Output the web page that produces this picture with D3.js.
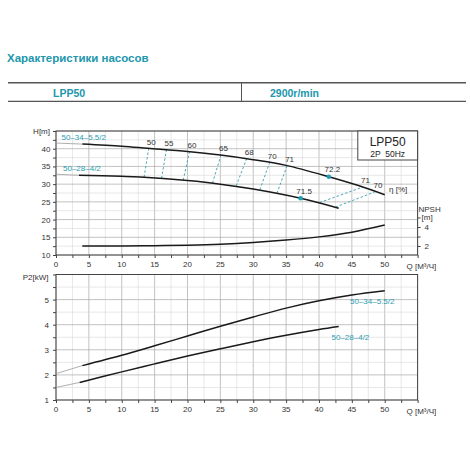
<html>
<head>
<meta charset="utf-8">
<title>LPP50</title>
<style>
    body{ margin:0; background:#fff; }
    text{ font-family:"Liberation Sans", Arial, sans-serif; }
    .grid5{ stroke:#a8a8a8; stroke-width:0.7; }
    .grid25{ stroke:#d6d6d6; stroke-width:0.6; }
    .frame{ fill:none; stroke:#444; stroke-width:1; }
    .tick{ font-size:8px; fill:#333; }
    .curve{ fill:none; stroke:#1a1a1a; stroke-width:1.5; }
    .ext{ fill:none; stroke:#9a9a9a; stroke-width:0.8; }
    .eta{ fill:none; stroke:#4aa9b9; stroke-width:1; stroke-dasharray:2.5,2; }
    .teal{ fill:#2b9cb0; }
    .dot{ fill:#1f9db2; }
</style>
</head>
<body>
<script src="https://cdn.jsdelivr.net/npm/d3@7"></script>
<script>
var width = 470, height = 470;

// Q axis ticks (shared)
var qTicks = [0,5,10,15,20,25,30,35,40,45,50];
var hTicks = [10,15,20,25,30,35,40];
var npshTicks = [2,4];
var p2Ticks = [1,2,3,4,5];

// H curves
var hBigQ = [4,10,14,20,25,30,35,41.5,46,50];
var hBigH = [41.3,40.7,40.1,39.2,38.2,36.9,35.3,32.1,29.6,27.0];
var hSmallQ = [3.5,10,12.8,20,25,30,37.2,43];
var hSmallH = [32.5,32.2,32.0,31.0,30.0,28.6,26.0,23.2];
// thin lines from Q=0
var hBigExtQ = [0,4], hBigExtH = [41.6,41.3];
var hSmallExtQ = [0,3.5], hSmallExtH = [32.8,32.5];

// NPSH curve
var npshQ = [4,10,15,20,25,30,35,40,45,50];
var npshV = [2.0,2.0,2.03,2.08,2.18,2.36,2.62,2.96,3.45,4.2];

// efficiency iso lines: label, top point (on upper curve), bottom point (on lower curve)
var etaLabels = ["50","55","60","65","68","70","71","71","70"];
var etaTopQ = [14.1,16.8,20.3,25.1,29.0,32.5,35.15,46.7,48.6];
var etaTopH = [40.1,39.7,39.15,38.2,37.2,36.1,35.2,29.2,27.9];
var etaBotQ = [13.4,16.05,19.35,23.8,27.4,31.0,33.6,40.1,42.5];
var etaBotH = [31.95,31.6,31.1,30.3,29.5,28.4,27.4,24.8,23.5];

// best efficiency points
var bepLabels = ["72.2","71.5"];
var bepQ = [41.5,37.2];
var bepH = [32.1,26.0];

// P2 curves
var p2BigQ = [4,10,15,20,25,30,35,40,45,50];
var p2BigV = [2.37,2.78,3.16,3.55,3.94,4.31,4.66,4.95,5.18,5.35];
var p2SmallQ = [3.6,10,15,20,25,30,35,40,43];
var p2SmallV = [1.70,2.12,2.44,2.75,3.04,3.32,3.58,3.81,3.93];
var p2BigExtQ = [0,4], p2BigExtV = [2.05,2.37];
var p2SmallExtQ = [0,3.6], p2SmallExtV = [1.50,1.70];

var models = ["50–34–5.5/2","50–28–4/2"];

var svg = d3.select("body").append("svg")
            .attr("width", width)
            .attr("height", height);

var teal = "#2196ad";

// header
svg.append("text").attr("x", 7).attr("y", 62)
   .attr("font-size", 11.5).attr("font-weight", "bold").attr("fill", teal)
   .text("Характеристики насосов");
svg.append("line").attr("x1", 8).attr("x2", 466).attr("y1", 82.7).attr("y2", 82.7)
   .attr("stroke", "#555").attr("stroke-width", 1.4);
svg.append("line").attr("x1", 8).attr("x2", 466).attr("y1", 101.3).attr("y2", 101.3)
   .attr("stroke", "#555").attr("stroke-width", 1.2);
svg.append("line").attr("x1", 241.5).attr("x2", 241.5).attr("y1", 83).attr("y2", 101)
   .attr("stroke", "#555").attr("stroke-width", 1);
svg.append("text").attr("x", 53).attr("y", 96.5)
   .attr("font-size", 10.5).attr("font-weight", "bold").attr("fill", teal).text("LPP50");
svg.append("text").attr("x", 270).attr("y", 96.5)
   .attr("font-size", 10.5).attr("font-weight", "bold").attr("fill", teal).text("2900r/min");

// scales
var x = d3.scaleLinear().domain([0,55]).range([56,417.6]);
var yH = d3.scaleLinear().domain([10,45]).range([255,131]);
var yN = d3.scaleLinear().domain([2,4]).range([246,227]);
var yP = d3.scaleLinear().domain([1,6]).range([400,274.5]);

function zip(a,b){ return a.map(function(d,i){ return [d,b[i]]; }); }

function drawGrid(y, yStep, yMin, yMax){
    var g = svg.append("g");
    var xs = d3.range(0, 55.01, 2.5);
    var ys = d3.range(yMin, yMax+0.001, yStep);
    xs.forEach(function(v){
        g.append("line").attr("class", (v % 5 == 0) ? "grid5" : "grid25")
         .attr("x1", x(v)).attr("x2", x(v)).attr("y1", y(yMin)).attr("y2", y(yMax));
    });
    ys.forEach(function(v,i){
        g.append("line").attr("class", (i % 2 == 0) ? "grid5" : "grid25")
         .attr("x1", x(0)).attr("x2", x(55)).attr("y1", y(v)).attr("y2", y(v));
    });
    // frame
    g.append("rect").attr("class", "frame")
     .attr("x", x(0)).attr("y", y(yMax))
     .attr("width", x(55)-x(0)).attr("height", y(yMin)-y(yMax));
    // axis ticks
    var xa = svg.append("g").attr("transform", "translate(0," + y(yMin) + ")")
        .call(d3.axisBottom(x).tickValues(d3.range(0,55.01,2.5)).tickSize(3).tickFormat(""));
    xa.select(".domain").remove();
    xa.selectAll("line").attr("stroke", "#444");
    var ya = svg.append("g").attr("transform", "translate(" + x(0) + ",0)")
        .call(d3.axisLeft(y).tickValues(ys).tickSize(3).tickFormat(""));
    ya.select(".domain").remove();
    ya.selectAll("line").attr("stroke", "#444");
    svg.append("g").selectAll("text").data(qTicks).enter().append("text")
       .attr("class", "tick").attr("x", function(d){ return x(d); })
       .attr("y", y(yMin) + 12).attr("text-anchor", "middle")
       .text(function(d){ return d; });
    svg.append("text").attr("class", "tick").attr("x", 406.5).attr("y", y(yMin) + 13.5)
       .text("Q [М³/Ч]");
}

function drawLine(q, v, y, cls, curve){
    var line = d3.line().x(function(d){ return x(d[0]); })
                        .y(function(d){ return y(d[1]); })
                        .curve(curve || d3.curveCatmullRom.alpha(0.5));
    svg.append("path").attr("class", cls).attr("d", line(zip(q, v)));
}

// ---- top chart: H, NPSH ----
drawGrid(yH, 2.5, 10, 45);
svg.append("g").selectAll("text").data(hTicks).enter().append("text")
   .attr("class", "tick").attr("x", 50.5).attr("y", function(d){ return yH(d) + 3; })
   .attr("text-anchor", "end").text(function(d){ return d; });
svg.append("text").attr("class", "tick").attr("x", 50).attr("y", 133.5)
   .attr("text-anchor", "end").text("H[m]");

// NPSH right axis
var na = svg.append("g").attr("transform", "translate(" + x(55) + ",0)")
    .call(d3.axisRight(yN).tickValues([2,3,4,5]).tickSize(3).tickFormat(""));
na.select(".domain").remove();
na.selectAll("line").attr("stroke", "#444");
svg.append("g").selectAll("text").data(npshTicks).enter().append("text")
   .attr("class", "tick").attr("x", 424.5).attr("y", function(d){ return yN(d) + 3; })
   .text(function(d){ return d; });
svg.append("text").attr("class", "tick").attr("x", 418.5).attr("y", 212).text("NPSH");
svg.append("text").attr("class", "tick").attr("x", 421.5).attr("y", 220).text("[m]");

drawLine(hBigExtQ, hBigExtH, yH, "ext", d3.curveLinear);
drawLine(hSmallExtQ, hSmallExtH, yH, "ext", d3.curveLinear);

// efficiency iso lines
etaLabels.forEach(function(lbl,i){
    svg.append("line").attr("class", "eta")
       .attr("x1", x(etaBotQ[i])).attr("y1", yH(etaBotH[i]))
       .attr("x2", x(etaTopQ[i])).attr("y2", yH(etaTopH[i]));
    svg.append("text").attr("class", "tick")
       .attr("x", x(etaTopQ[i]) + 2.5).attr("y", yH(etaTopH[i]) - 3.8)
       .attr("text-anchor", "middle").text(lbl);
});

drawLine(hBigQ, hBigH, yH, "curve");
drawLine(hSmallQ, hSmallH, yH, "curve");
drawLine(npshQ, npshV, yN, "curve");

bepLabels.forEach(function(lbl,i){
    svg.append("circle").attr("class", "dot")
       .attr("cx", x(bepQ[i])).attr("cy", yH(bepH[i])).attr("r", 2.3);
    svg.append("text").attr("class", "tick")
       .attr("x", x(bepQ[i]) + 3.5).attr("y", yH(bepH[i]) - 4.5)
       .attr("text-anchor", "middle").text(lbl);
});

svg.append("text").attr("class", "tick").attr("x", 389).attr("y", 191.5)
   .attr("font-size", 9).text("η [%]");

svg.append("text").attr("class", "teal").attr("font-size", 8)
   .attr("x", 61.5).attr("y", 139.5).text(models[0]);
svg.append("text").attr("class", "teal").attr("font-size", 8)
   .attr("x", 63).attr("y", 171.3).text(models[1]);

// model box
svg.append("rect").attr("x", 357.8).attr("y", 131).attr("width", 59.8).attr("height", 29)
   .attr("fill", "#fff").attr("stroke", "#444").attr("stroke-width", 1);
svg.append("text").attr("x", 387.7).attr("y", 145.5).attr("text-anchor", "middle")
   .attr("font-size", 12).attr("fill", "#222").text("LPP50");
svg.append("text").attr("x", 387.7).attr("y", 157).attr("text-anchor", "middle")
   .attr("font-size", 8.5).attr("fill", "#222").attr("xml:space", "preserve").text("2P  50Hz");

// ---- bottom chart: P2 ----
drawGrid(yP, 0.5, 1, 6);
svg.append("g").selectAll("text").data(p2Ticks).enter().append("text")
   .attr("class", "tick").attr("x", 49).attr("y", function(d){ return yP(d) + 3; })
   .attr("text-anchor", "end").text(function(d){ return d; });
svg.append("text").attr("class", "tick").attr("x", 48.5).attr("y", 279.5)
   .attr("text-anchor", "end").text("P2[kW]");

drawLine(p2BigExtQ, p2BigExtV, yP, "ext", d3.curveLinear);
drawLine(p2SmallExtQ, p2SmallExtV, yP, "ext", d3.curveLinear);
drawLine(p2BigQ, p2BigV, yP, "curve");
drawLine(p2SmallQ, p2SmallV, yP, "curve");

svg.append("text").attr("class", "teal").attr("font-size", 8)
   .attr("x", 350).attr("y", 304).text(models[0]);
svg.append("text").attr("class", "teal").attr("font-size", 8)
   .attr("x", 331.5).attr("y", 339.8).text(models[1]);
</script>
</body>
</html>
